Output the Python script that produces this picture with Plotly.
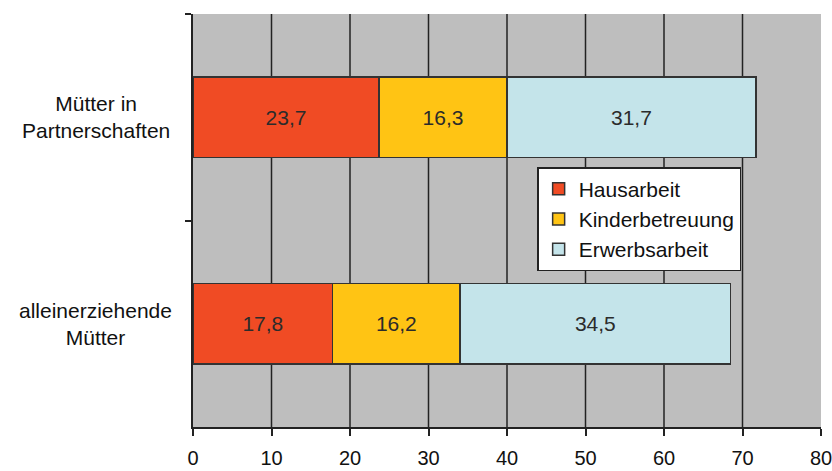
import plotly.graph_objects as go

# Time use of mothers (hours per week), stacked by activity
categories = ["Mütter in Partnerschaften", "alleinerziehende Mütter"]
category_labels = ["Mütter in<br>Partnerschaften", "alleinerziehende<br>Mütter"]
series_names = ["Hausarbeit", "Kinderbetreuung", "Erwerbsarbeit"]
hausarbeit = [23.7, 17.8]
kinderbetreuung = [16.3, 16.2]
erwerbsarbeit = [31.7, 34.5]
x_ticks = [0, 10, 20, 30, 40, 50, 60, 70, 80]

colors = ["#F04B24", "#FFC414", "#C4E4EA"]
series_values = [hausarbeit, kinderbetreuung, erwerbsarbeit]
FONT = "Liberation Sans, Arial, sans-serif"

fig = go.Figure()
for name, vals, col in zip(series_names, series_values, colors):
    fig.add_trace(go.Bar(
        y=categories,
        x=vals,
        name=name,
        orientation="h",
        marker=dict(color=col, line=dict(color="#333333", width=1.5)),
        texttemplate="%{x:.1f}",
        textposition="inside",
        insidetextanchor="middle",
        textangle=0,
        textfont=dict(family=FONT, size=21, color="#2b2b2b"),
        hoverinfo="skip",
    ))

# Category labels drawn as centred two-line text left of the axis
for cat, lab in zip(categories, category_labels):
    fig.add_annotation(
        x=-0.1545, xref="paper", y=cat, yref="y",
        text=lab, showarrow=False, align="center",
        xanchor="center", yanchor="middle",
        font=dict(family=FONT, size=21, color="#111111"),
    )

# Interior vertical gridlines at the tick positions (none on the right edge)
for xv in x_ticks[1:-1]:
    fig.add_shape(
        type="line", xref="x", yref="paper",
        x0=xv, x1=xv, y0=0, y1=1,
        line=dict(color="#222222", width=1.5),
        layer="below",
    )

fig.update_layout(
    barmode="stack",
    bargap=0.61,
    width=832, height=471,
    margin=dict(l=193, r=11, t=14, b=44, autoexpand=False),
    paper_bgcolor="white",
    plot_bgcolor="#BEBEBE",
    separators=",.",
    font=dict(family=FONT, size=20, color="#111111"),
    legend=dict(
        x=0.548, y=0.6295, xanchor="left", yanchor="top",
        bgcolor="white", bordercolor="#222222", borderwidth=1.5,
        traceorder="normal",
        font=dict(family=FONT, size=21, color="#111111"),
        itemwidth=30,
        tracegroupgap=0,
    ),
    xaxis=dict(
        range=[0, 80],
        tickvals=x_ticks,
        showgrid=False,
        showline=True, linecolor="#222222", linewidth=1.5,
        ticks="outside", ticklen=7, tickcolor="#222222", tickwidth=1.5,
        zeroline=False, automargin=False,
        ticklabeloverflow="allow",
        ticklabelstandoff=5,
        tickfont=dict(family=FONT, size=20),
    ),
    yaxis=dict(
        categoryorder="array", categoryarray=categories,
        autorange="reversed",
        showticklabels=False,
        tickson="boundaries",
        ticks="outside", ticklen=6, tickcolor="#222222", tickwidth=1.5,
        showline=True, linecolor="#222222", linewidth=1.5,
        showgrid=False, zeroline=False, automargin=False,
    ),
)

fig.write_html("out.html")
